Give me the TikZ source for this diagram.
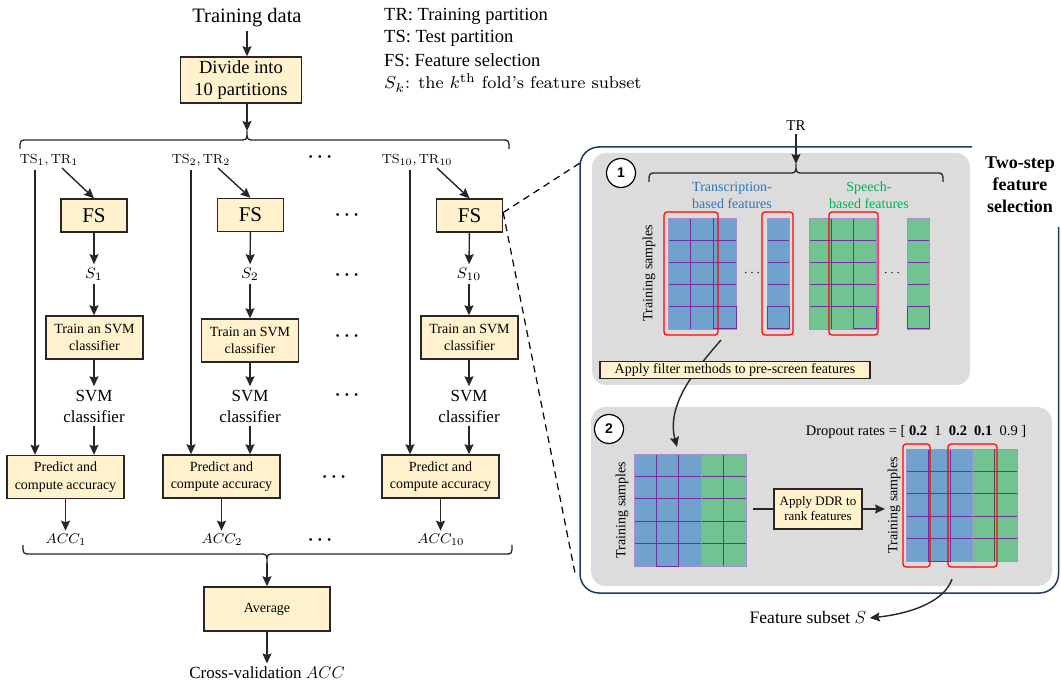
\RequirePackage{fix-cm}
\documentclass[tikz,border=0pt]{standalone}
\usepackage[no-math]{fontspec}
\setmainfont{Liberation Serif}
\newfontfamily\numfont{Liberation Sans}
\usetikzlibrary{arrows.meta,calc}
\definecolor{boxfill}{HTML}{FFF2CC}
\definecolor{boxdraw}{HTML}{262626}
\definecolor{navy}{HTML}{1F3864}
\definecolor{panelgray}{HTML}{DCDCDC}
\definecolor{cellblue}{HTML}{71A1CD}
\definecolor{cellgreen}{HTML}{72C392}
\definecolor{gridline}{HTML}{7030A0}
\definecolor{gridout}{HTML}{A890D0}
\definecolor{txtblue}{HTML}{2E75B6}
\definecolor{txtgreen}{HTML}{00B050}
\newcommand\fsz[2]{\fontsize{#1}{#2}\selectfont}
\newcommand\cmlab[2]{\scalebox{#1}{\fontfamily{lmr}\fontsize{8}{10}\selectfont #2}}
\newcommand\bdots{{\boldmath$\cdots$}}
\newcommand\cgrid[7]{%
  \fill[#7] (#1,#2) rectangle (#3,#4);
  \pgfmathsetmacro\gcw{(#3-#1)/#5}
  \pgfmathsetmacro\gch{(#4-#2)/#6}
  \ifnum#5>1 \foreach \k in {2,...,#5} {\draw[gridline,line width=0.8pt] ({#1+(\k-1)*\gcw},#2) -- ({#1+(\k-1)*\gcw},#4);}\fi
  \foreach \k in {2,...,#6} {\draw[gridline,line width=0.8pt] (#1,{#2+(\k-1)*\gch}) -- (#3,{#2+(\k-1)*\gch});}
  \draw[gridout,line width=0.8pt] (#1,#2) rectangle (#3,#4);
}
\tikzset{
  box/.style={draw=boxdraw, fill=boxfill, line width=1.4pt, inner sep=0pt, align=center},
  arr/.style={-{Stealth[length=10pt,width=9pt,inset=1.5pt]}, line width=1.4pt, draw=boxdraw},
  plain/.style={line width=1.4pt, draw=boxdraw},
  brace/.style={line width=1.3pt, draw=boxdraw},
  redbox/.style={draw=red, line width=1.2pt, rounded corners=3pt},
  numc/.style={circle, draw=black, fill=white, line width=1.2pt, minimum size=29pt, inner sep=0pt, font=\numfont\bfseries\fsz{14}{16}},
  dots/.style={font=\fsz{18}{20}},
  rot/.style={rotate=90, font=\fsz{14}{16}},
}
\begin{document}
\begin{tikzpicture}[x=1pt,y=-1pt]
\useasboundingbox (0,0) rectangle (1061,684);

% ---------------- left part ----------------
\node[font=\fsz{20.5}{24}] (td) at (247,18) {Training data};
\node[box, minimum width=121pt, minimum height=46pt, font=\fsz{18.5}{22}] (div) at (241,80) {Divide into\\10 partitions};
\draw[arr] (td.south) -- (td.south |- div.north);
\coordinate (tipA) at (247,131);
\draw[arr] (div.south -| td) -- (tipA);
\draw[brace] (20,149) .. controls (20,140) .. (28,140) -- (239,140) .. controls (247,140) .. (247,131) .. controls (247,140) .. (255,140) -- (501,140) .. controls (509,140) .. (509,149);

% legend
\node[anchor=west, inner sep=0pt, font=\fsz{18.5}{20}] (lg1) at (384,16) {TR: Training partition};
\node[anchor=west, inner sep=0pt, font=\fsz{18.5}{20}] (lg2) at (384,38) {TS: Test partition};
\node[anchor=west, inner sep=0pt, font=\fsz{18.5}{20}] (lg3) at (384,60) {FS: Feature selection};
\node[anchor=west, inner sep=0pt] (lg4) at (384,83) {\cmlab{2.15}{$S_k$: the $k^{\mathrm{th}}$ fold's feature subset}};

% column labels
\node (ts1) at (49,160) {\cmlab{1.65}{$\mathrm{TS}_1, \mathrm{TR}_1$}};
\node (ts2) at (201,160) {\cmlab{1.65}{$\mathrm{TS}_2, \mathrm{TR}_2$}};
\node (ts3) at (417,160) {\cmlab{1.65}{$\mathrm{TS}_{10}, \mathrm{TR}_{10}$}};
\node[dots] (d0) at (320,157) {\bdots};

% FS boxes
\node[box, minimum width=66pt, minimum height=33pt, font=\fsz{21}{24}] (fs1) at (94,215.5) {FS};
\node[box, minimum width=66pt, minimum height=33pt, font=\fsz{21}{24}] (fs2) at (250.5,215) {FS};
\node[box, minimum width=66pt, minimum height=33pt, font=\fsz{21}{24}] (fs3) at (469.5,215.5) {FS};
\node[dots] (d1) at (347,215) {\bdots};

\coordinate (a1) at (62,168);
\coordinate (a2) at (218,168);
\coordinate (a3) at (437,168);
\draw[arr] (a1) -- (fs1.north);
\draw[arr] (a2) -- (fs2.north);
\draw[arr] (a3) -- (fs3.north);

% S nodes
\node (s1) at (94,274) {\cmlab{1.9}{$S_1$}};
\node (s2) at (250,274) {\cmlab{1.9}{$S_2$}};
\node (s3) at (469,274) {\cmlab{1.9}{$S_{10}$}};
\node[dots] (d2) at (347,275) {\bdots};
\draw[arr] (fs1) -- (s1);
\draw[arr] (fs2) -- (s2);
\draw[arr] (fs3) -- (s3);

% Train boxes
\node[box, minimum width=97pt, minimum height=43pt, font=\fsz{14}{17}] (tr1) at (94.5,337.5) {Train an SVM\\classifier};
\node[box, minimum width=97pt, minimum height=43pt, font=\fsz{14}{17}] (tr2) at (250,340.5) {Train an SVM\\classifier};
\node[box, minimum width=97pt, minimum height=43pt, font=\fsz{14}{17}] (tr3) at (469.5,337.5) {Train an SVM\\classifier};
\node[dots] (d3) at (347,336) {\bdots};
\draw[arr] (s1) -- (s1 |- tr1.north);
\draw[arr] (s2) -- (s2 |- tr2.north);
\draw[arr] (s3) -- (s3 |- tr3.north);

% SVM classifier
\node[font=\fsz{17}{21}, align=center] (svm1) at (94,406) {SVM\\classifier};
\node[font=\fsz{17}{21}, align=center] (svm2) at (250,406) {SVM\\classifier};
\node[font=\fsz{17}{21}, align=center] (svm3) at (469,406) {SVM\\classifier};
\node[dots] (d4) at (347,395) {\bdots};
\draw[arr] (tr1.south -| svm1) -- (svm1);
\draw[arr] (tr2.south -| svm2) -- (svm2);
\draw[arr] (tr3.south -| svm3) -- (svm3);

% Predict boxes
\node[box, minimum width=117pt, minimum height=43pt, font=\fsz{14}{17.5}] (pr1) at (65.5,477) {Predict and\\compute accuracy};
\node[box, minimum width=117pt, minimum height=43pt, font=\fsz{14}{17.5}] (pr2) at (221.5,476.5) {Predict and\\compute accuracy};
\node[box, minimum width=117pt, minimum height=43pt, font=\fsz{14}{17.5}] (pr3) at (440.5,476.5) {Predict and\\compute accuracy};
\node[dots] (d5) at (334,477) {\bdots};
\draw[arr] (svm1.south) -- (svm1.south |- pr1.north);
\draw[arr] (svm2.south) -- (svm2.south |- pr2.north);
\draw[arr] (svm3.south) -- (svm3.south |- pr3.north);

\coordinate (v1) at (35,170);
\coordinate (v2) at (191,170);
\coordinate (v3) at (410,170);
\draw[arr] (v1) -- (v1 |- pr1.north);
\draw[arr] (v2) -- (v2 |- pr2.north);
\draw[arr] (v3) -- (v3 |- pr3.north);

% ACC
\node (acc1) at (66,540) {\cmlab{1.75}{$ACC_1$}};
\node (acc2) at (222,540) {\cmlab{1.75}{$ACC_2$}};
\node (acc3) at (441,540) {\cmlab{1.75}{$ACC_{10}$}};
\node[dots] (d6) at (320,540) {\bdots};
\draw[arr] (pr1.south) -- (pr1.south |- acc1.north);
\draw[arr] (pr2.south) -- (pr2.south |- acc2.north);
\draw[arr] (pr3.south) -- (pr3.south |- acc3.north);

\draw[brace] (23,545) .. controls (23,554) .. (31,554) -- (259,554) .. controls (267,554) .. (267,563) .. controls (267,554) .. (275,554) -- (504,554) .. controls (512,554) .. (512,545);
\coordinate (tipC) at (267,563);
\node[box, minimum width=126pt, minimum height=44pt, font=\fsz{14}{17}] (avg) at (267,609) {Average};
\draw[arr] (tipC) -- (avg.north);
\node[font=\fsz{17}{20}] (cv) at (267,673) {Cross-validation $ACC$};
\draw[arr] (avg.south) -- (cv.north);

% ---------------- right part ----------------
\fill[panelgray, rounded corners=14pt] (592,153) rectangle (970,385);
\fill[panelgray, rounded corners=15pt] (591,407) rectangle (1052,586);
\draw[navy, line width=1.5pt, rounded corners=19pt] (972,147) -- (580,147) -- (580,593) -- (1058.5,593) -- (1058.5,227);

\coordinate (dz1) at (580,163);
\coordinate (dz2) at (575,573);
\draw[line width=1.2pt, dash pattern=on 7pt off 5pt] ([yshift=3pt]fs3.east) -- (dz1);
\draw[line width=1.2pt, dash pattern=on 7pt off 5pt] ([yshift=3pt]fs3.east) -- (dz2);

\node[font=\bfseries\fsz{18}{22}, align=center] (title) at (1020,185) {Two-step\\feature\\selection};

\node[font=\fsz{15}{18}] (tr) at (796,126) {TR};
\coordinate (tipB) at (796,164);
\draw[arr] (tr) -- (tipB);
\draw[brace] (649,182) .. controls (649,173) .. (657,173) -- (788,173) .. controls (796,173) .. (796,164) .. controls (796,173) .. (804,173) -- (935,173) .. controls (943,173) .. (943,182);

\node[numc] (n1) at (621,173) {1};
\node[numc] (n2) at (609,429) {2};

\node[font=\fsz{14}{17}, align=center, text=txtblue] (tbf) at (732,195) {Transcription-\\based features};
\node[font=\fsz{14}{17}, align=center, text=txtgreen] (sbf) at (869,195) {Speech-\\based features};

% step 1 grids
\cgrid{668}{218}{736}{329}{3}{5}{cellblue}
\cgrid{767}{218}{789}{329}{1}{5}{cellblue}
\cgrid{809}{218}{876}{329}{3}{5}{cellgreen}
\cgrid{907}{218}{929}{329}{1}{5}{cellgreen}
\draw[gridline, line width=1pt] (713.3,218) -- (713.3,329);
\draw[gridline, line width=1pt] (713.3,306.8) rectangle (736,329);
\draw[gridline, line width=1pt] (767,306.8) rectangle (789,329);
\draw[gridline, line width=1pt] (853.7,306.8) rectangle (876,329);
\draw[gridline, line width=1pt] (907,306.8) rectangle (929,329);
\node[font=\fsz{14}{16}] (d7) at (752,273) {$\cdots$};
\node[font=\fsz{14}{16}] (d8) at (892,273) {$\cdots$};
\draw[redbox] (664,212) rectangle (718,335);
\draw[redbox] (762,212) rectangle (793,335);
\draw[redbox] (829,212) rectangle (878,335);
\node[rot] (ts1lab) at (649,273) {Training samples};

\coordinate (c1s) at (721,340);
\coordinate (c1e) at (677,447);
\draw[arr] (c1s) .. controls (695,370) and (666,405) .. (c1e);
\node[box, line width=1.2pt, minimum width=270pt, minimum height=17pt, font=\fsz{14}{16}] (flt) at (735,370) {Apply filter methods to pre-screen features};

% step 2
\node[font=\fsz{14.5}{18}] (dr) at (916,432) {Dropout rates = [ \textbf{0.2}\enspace 1\enspace \textbf{0.2}\enspace \textbf{0.1}\enspace 0.9 ]};
\cgrid{634}{454}{701.2}{566}{3}{5}{cellblue}
\cgrid{701.2}{454}{746}{566}{2}{5}{cellgreen}
\draw[gridline, line width=1pt] (656.4,543.6) rectangle (678.8,566);
\node[rot] (ts2lab) at (622,510) {Training samples};

\node[box, minimum width=88pt, minimum height=40pt, font=\fsz{13}{15}] (ddr) at (818,509) {Apply DDR to\\rank features};
\coordinate (g2a) at (753,509);
\coordinate (g2b) at (885,509);
\draw[plain] (g2a) -- (ddr.west);
\draw[arr] (ddr.east) -- (g2b);

\cgrid{906}{449}{972.6}{561}{3}{5}{cellblue}
\cgrid{972.6}{449}{1017}{561}{2}{5}{cellgreen}
\draw[gridline, line width=1pt] (928.2,538.6) rectangle (950.4,561);
\draw[black!70, line width=1pt] (994.8,449) -- (994.8,561);
\draw[redbox] (903,444) rectangle (930,567);
\draw[redbox] (948,444) rectangle (997,567);
\node[rot] (ts3lab) at (894,505) {Training samples};

\node[font=\fsz{17.5}{20}] (fsub) at (808,618) {Feature subset $S$};
\coordinate (c2s) at (952,579);
\draw[arr] (c2s) .. controls (945,600) and (915,613) .. (fsub.east);
\end{tikzpicture}
\end{document}
